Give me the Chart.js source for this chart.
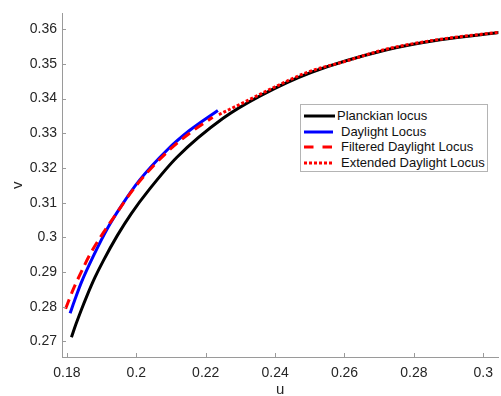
<!DOCTYPE html>
<html>
<head>
<meta charset="utf-8">
<script src="https://cdn.jsdelivr.net/npm/chart.js@4/dist/chart.umd.min.js"></script>
<style>
  body { margin: 0; background: #fff; }
  #wrap { position: relative; width: 501px; height: 396px; overflow: hidden; }
  #legend {
    position: absolute; left: 300px; top: 104px; width: 188px; height: 68px;
    background: #fff; border: 1px solid #b4b4b4; box-sizing: border-box;
    font-family: "Liberation Sans", Arial, sans-serif; font-size: 13px; color: #111;
  }
  .row { position: absolute; left: 0; height: 14px; width: 186px; }
  .row svg { position: absolute; left: 3px; top: 0; }
  .row span { position: absolute; top: -1px; white-space: nowrap; line-height: 16px; }
</style>
</head>
<body>
<div id="wrap">
  <canvas id="chart" width="501" height="396"></canvas>
  <div id="legend"></div>
</div>
<script>
// chromaticity coordinates (CIE 1960 u, v)
const planckU = [0.1813, 0.1826, 0.1841, 0.1857, 0.1880, 0.1905, 0.1945, 0.1985, 0.2038, 0.2117, 0.2251, 0.2357, 0.2505, 0.2722, 0.2876, 0.3051];
const planckV = [0.2712, 0.2750, 0.2790, 0.2830, 0.2883, 0.2933, 0.3005, 0.3068, 0.3139, 0.3231, 0.3344, 0.3408, 0.3476, 0.3541, 0.3570, 0.3591];

const daylightU = [0.1809, 0.1823, 0.1841, 0.1876, 0.1919, 0.1955, 0.2007, 0.2091, 0.2153, 0.2235];
const daylightV = [0.2781, 0.2821, 0.2869, 0.2946, 0.3030, 0.3088, 0.3162, 0.3254, 0.3308, 0.3366];

const filteredU = [0.1796, 0.1818, 0.1842, 0.1867, 0.1898, 0.1931, 0.2000, 0.2093, 0.2160, 0.2220];
const filteredV = [0.2794, 0.2850, 0.2902, 0.2952, 0.3003, 0.3052, 0.3150, 0.3250, 0.3305, 0.3346];

const extendedU = [0.2238, 0.2320, 0.2400, 0.2493, 0.2600, 0.2722, 0.2876, 0.3051];
const extendedV = [0.3354, 0.3394, 0.3434, 0.3476, 0.3507, 0.3543, 0.3571, 0.3592];

const xTicks = [0.18, 0.2, 0.22, 0.24, 0.26, 0.28, 0.3];
const yTicks = [0.27, 0.28, 0.29, 0.3, 0.31, 0.32, 0.33, 0.34, 0.35, 0.36];

const seriesNames = ['Planckian locus', ' Daylight Locus', ' Filtered Daylight Locus', ' Extended Daylight Locus'];

function toPoints(us, vs) {
    return us.map((u, i) => ({ x: u, y: vs[i] }));
}

const axisColor = '#9a9a9a';
const tickFont = { family: '"Liberation Sans", Arial, sans-serif', size: 14 };

// MATLAB-style inward tick marks
const inwardTicks = {
    id: 'inwardTicks',
    afterDatasetsDraw(chart) {
        const { ctx, chartArea, scales } = chart;
        ctx.save();
        ctx.strokeStyle = axisColor;
        ctx.lineWidth = 1;
        ctx.beginPath();
        xTicks.forEach(t => {
            const px = Math.round(scales.x.getPixelForValue(t)) + 0.5;
            ctx.moveTo(px, chartArea.bottom);
            ctx.lineTo(px, chartArea.bottom - 4);
        });
        yTicks.forEach(t => {
            const py = Math.round(scales.y.getPixelForValue(t)) + 0.5;
            ctx.moveTo(chartArea.left, py);
            ctx.lineTo(chartArea.left + 4, py);
        });
        ctx.stroke();
        ctx.restore();
    }
};

const ctx = document.getElementById('chart').getContext('2d');
const chart = new Chart(ctx, {
    type: 'scatter',
    data: {
        datasets: [{
            label: seriesNames[0],
            data: toPoints(planckU, planckV),
            borderColor: '#000000',
            borderWidth: 3,
            order: 4
        }, {
            label: seriesNames[1],
            data: toPoints(daylightU, daylightV),
            borderColor: '#0000ff',
            borderWidth: 3,
            order: 3
        }, {
            label: seriesNames[2],
            data: toPoints(filteredU, filteredV),
            borderColor: '#ff0000',
            borderWidth: 3,
            borderDash: [10, 6],
            borderCapStyle: 'butt',
            order: 2
        }, {
            label: seriesNames[3],
            data: toPoints(extendedU, extendedV),
            borderColor: '#ff0000',
            borderWidth: 3,
            borderDash: [3, 2],
            borderCapStyle: 'butt',
            order: 1
        }]
    },
    options: {
        responsive: false,
        animation: false,
        devicePixelRatio: 1,
        showLine: true,
        datasets: {
            scatter: { pointRadius: 0, cubicInterpolationMode: 'monotone', fill: false }
        },
        layout: { padding: { top: 10, right: 0, left: 0, bottom: 0 } },
        plugins: {
            legend: { display: false },
            tooltip: { enabled: false }
        },
        scales: {
            x: {
                type: 'linear',
                min: 0.17857,
                max: 0.30436,
                afterBuildTicks: s => { s.ticks = xTicks.map(v => ({ value: v })); },
                afterFit: s => { s.height = 39; },
                grid: { display: false, drawTicks: false },
                border: { display: true, color: axisColor, width: 1 },
                ticks: {
                    color: '#262626', font: tickFont, padding: 8, maxRotation: 0,
                    callback: v => String(+v.toFixed(3))
                },
                title: {
                    display: true, text: 'u', color: '#262626',
                    font: { family: '"Liberation Sans", Arial, sans-serif', size: 15 },
                    padding: { top: 0, bottom: -3 }
                }
            },
            y: {
                type: 'linear',
                min: 0.26551,
                max: 0.36457,
                afterBuildTicks: s => { s.ticks = yTicks.map(v => ({ value: v })); },
                afterFit: s => { s.width = 62; },
                grid: { display: false, drawTicks: false },
                border: { display: true, color: axisColor, width: 1 },
                ticks: {
                    color: '#262626', font: tickFont, padding: 5,
                    callback: v => String(+v.toFixed(3))
                },
                title: {
                    display: true, text: 'v', color: '#262626',
                    font: { family: '"Liberation Sans", Arial, sans-serif', size: 15 },
                    padding: { top: 9, bottom: 0 }
                }
            }
        }
    },
    plugins: [inwardTicks]
});

// legend box, drawn as HTML with line samples matching each dataset
const legend = document.getElementById('legend');
const rowTops = [4, 20, 35, 51];
const textLeft = [36, 40, 40, 40];
chart.data.datasets.forEach((ds, i) => {
    const row = document.createElement('div');
    row.className = 'row';
    row.style.top = rowTops[i] + 'px';
    const dash = ds.borderDash ? ds.borderDash.join(' ') : 'none';
    const lineLen = i === 0 ? 31 : 29;
    row.innerHTML =
        '<svg width="34" height="14"><line x1="0" y1="7" x2="' + lineLen + '" y2="7" stroke="' + ds.borderColor +
        '" stroke-width="3" stroke-dasharray="' + (i === 2 ? '9.5 9' : dash) + '"/></svg>' +
        '<span style="left:' + textLeft[i] + 'px">' + ds.label.trim() + '</span>';
    legend.appendChild(row);
});
</script>
</body>
</html>
